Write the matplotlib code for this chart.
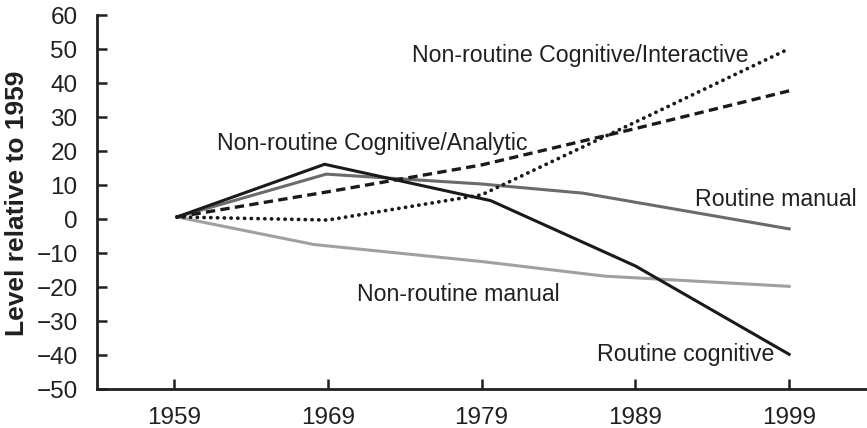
import matplotlib
matplotlib.use("Agg")
import matplotlib.pyplot as plt

plt.rcParams['font.family'] = ['Liberation Sans', 'DejaVu Sans']

# Данные (уровень относительно 1959)
years_rc = [1959.2, 1968.8, 1979.6, 1989, 1999]
routine_cognitive = [0.6, 16.1, 5.4, -13.8, -39.8]

years_rm = [1959.2, 1968.9, 1979, 1985.6, 1999]
routine_manual = [0.6, 13.2, 10.3, 7.6, -2.9]

years_nrm = [1959.2, 1968.1, 1979, 1987, 1999]
nonroutine_manual = [0.6, -7.5, -12.5, -16.8, -19.8]

years_an = [1959.2, 1969, 1979, 1989, 1999]
analytic = [0.6, 8.0, 15.9, 26.6, 37.7]

years_in = [1959.2, 1969, 1979, 1989, 1999]
interactive = [0.6, -0.3, 7.1, 28.5, 50.1]

xticks = [1959, 1969, 1979, 1989, 1999]
yticks = list(range(-50, 61, 10))

labels = [
    ("Non-routine Cognitive/Interactive", 1974.5, 46.2),
    ("Non-routine Cognitive/Analytic", 1961.8, 20.3),
    ("Routine manual", 1992.9, 3.7),
    ("Non-routine manual", 1970.9, -24.2),
    ("Routine cognitive", 1986.5, -41.8),
]

fig = plt.figure(figsize=(8.67, 4.28), dpi=100)
ax = fig.add_axes([0.1119, 0.0911, 0.887, 0.8738])

ax.plot(years_nrm, nonroutine_manual, color='#a0a0a0', lw=2.2, solid_joinstyle='round')
ax.plot(years_rm, routine_manual, color='#6b6b6b', lw=2.2, solid_joinstyle='round')
ax.plot(years_in, interactive, color='#1a1a1a', lw=2.7, linestyle=(0, (0.05, 1.75)),
        dash_capstyle='round')
ax.plot(years_an, analytic, color='#1a1a1a', lw=2.4, linestyle=(0, (2.8, 1.6)))
ax.plot(years_rc, routine_cognitive, color='#1a1a1a', lw=2.2, solid_joinstyle='round')

for text, x, y in labels:
    ax.text(x, y, text, fontsize=16.7, color='#231f20', ha='left', va='baseline')

ax.set_xlim(1954, 2004)
ax.set_ylim(-50, 60)
ax.set_xticks(xticks)
ax.set_yticks(yticks)
ax.tick_params(direction='in', length=7, width=1.8, labelsize=17.5, colors='#231f20')
ax.tick_params(axis='y', pad=14)
ax.tick_params(axis='x', pad=13)

for side in ['top', 'right']:
    ax.spines[side].set_visible(False)
for side in ['left', 'bottom']:
    ax.spines[side].set_linewidth(2)
    ax.spines[side].set_color('#231f20')

fig.text(0.0196, 0.526, 'Level relative to 1959', rotation=90, fontsize=19,
         fontweight='bold', ha='center', va='center', color='#231f20')

fig.savefig('out.png', dpi=100)
